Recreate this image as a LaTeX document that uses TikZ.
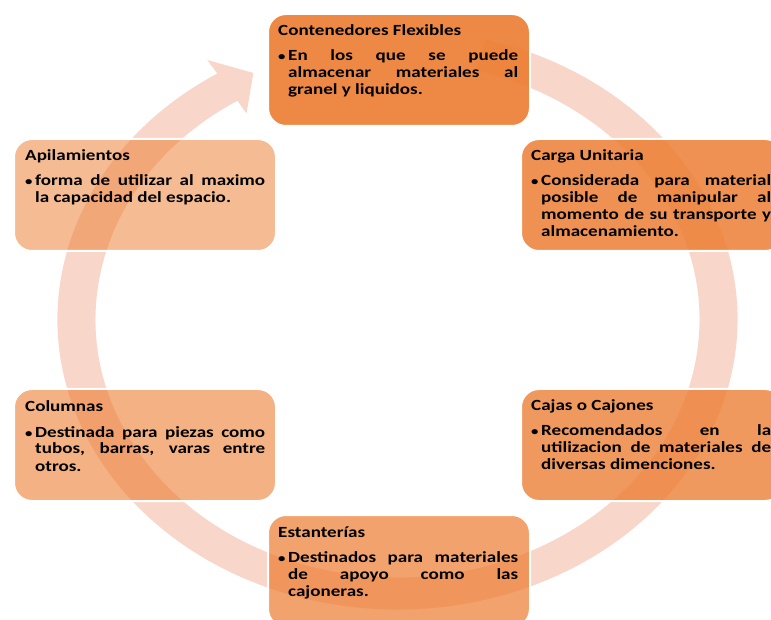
\documentclass[tikz,border=0pt]{standalone}
\usepackage{fontspec}
\setmainfont{Carlito}[FakeStretch=1.23]
\usetikzlibrary{calc}
\definecolor{acc}{RGB}{237,125,49}
\definecolor{ringc}{RGB}{248,214,201}
\newcommand\boxtext[2]{\parbox[t]{240pt}{\parskip=0pt\fontsize{15.5}{17}\selectfont\bfseries #1\par\vspace{8pt}\hangindent=10pt\hangafter=1\noindent\makebox[10pt][l]{\fontsize{12}{12}\selectfont•}#2}}
\tikzset{
  cbox/.style={draw=white, line width=2pt, rounded corners=18pt, fill=acc,
    minimum width=262pt, minimum height=112pt, anchor=north west, inner sep=0pt},
  ctxt/.style={anchor=base west, inner sep=0pt, text=black}
}
\begin{document}
\begin{tikzpicture}[x=1pt,y=1pt]
\useasboundingbox (0,0) rectangle (771,619);
\clip (0,0) rectangle (771,619);
\fill[white] (0,0) rectangle (771,619);
\coordinate (C) at (397.5,299.5);
% ring arrow
\fill[ringc] ($(C)+(75:340 and 290)$) arc[start angle=75,end angle=-238,x radius=340,y radius=290]
  -- ($(C)+(122:359 and 306)$) -- ($(C)+(116.5:323 and 275.5)$) -- ($(C)+(122:285 and 243)$)
  -- ($(C)+(-238:302 and 258)$) arc[start angle=-238,end angle=75,x radius=302,y radius=258] -- cycle;
% boxes
\node[cbox, fill opacity=0.9] (b1) at (267,606) {};
\node[cbox, fill opacity=0.84] (b2) at (520,481) {};
\node[cbox, fill opacity=0.78] (b3) at (520,231) {};
\node[cbox, fill opacity=0.71] (b4) at (267,105) {};
\node[cbox, fill opacity=0.6] (b5) at (13,231) {};
\node[cbox, fill opacity=0.52] (b6) at (13,481) {};
% texts
\node[ctxt] (t1) at ($(b1.north west)+(11,-23)$) {\boxtext{Contenedores Flexibles}{En los que se puede\linebreak almacenar materiales al\linebreak granel y liquidos.}};
\node[ctxt] (t2) at ($(b2.north west)+(11,-23)$) {\boxtext{Carga Unitaria}{Considerada para material\linebreak posible de manipular al\linebreak momento de su transporte y\linebreak almacenamiento.}};
\node[ctxt] (t3) at ($(b3.north west)+(11,-23)$) {\boxtext{Cajas o Cajones}{Recomendados en la\linebreak utilizacion de materiales de\linebreak diversas dimenciones.}};
\node[ctxt] (t4) at ($(b4.north west)+(11,-23)$) {\boxtext{Estanterías}{Destinados para materiales\linebreak de apoyo como las\linebreak cajoneras.}};
\node[ctxt] (t5) at ($(b5.north west)+(12,-24)$) {\boxtext{Columnas}{Destinada para piezas como\linebreak tubos, barras, varas entre\linebreak otros.}};
\node[ctxt] (t6) at ($(b6.north west)+(12,-23)$) {\boxtext{Apilamientos}{forma de utilizar al maximo\linebreak la capacidad del espacio.}};
\end{tikzpicture}
\end{document}
